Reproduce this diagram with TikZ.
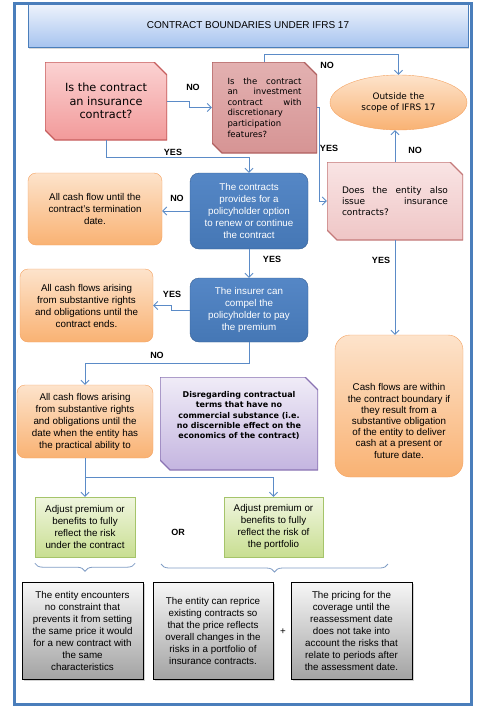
\documentclass[tikz,border=0pt]{standalone}
\usepackage{fontspec}
\setmainfont{Liberation Sans}
\newfontfamily\verdfont{DejaVu Sans}
\usetikzlibrary{arrows.meta,shapes.geometric,shadows,decorations.pathreplacing}

\definecolor{frameblue}{HTML}{4A7EBB}
\definecolor{linkblue}{HTML}{5B8BC7}
\definecolor{bracegray}{HTML}{7F9CC4}
\definecolor{titletop}{HTML}{EEF3FC}
\definecolor{titlebot}{HTML}{A7C4EF}
\definecolor{redtop}{HTML}{FBD2D2}
\definecolor{redbot}{HTML}{F29A9A}
\definecolor{redline}{HTML}{C65E5E}
\definecolor{rosetop}{HTML}{E3B1B1}
\definecolor{rosebot}{HTML}{D69494}
\definecolor{roseline}{HTML}{B06060}
\definecolor{pinktop}{HTML}{F9E4E4}
\definecolor{pinkbot}{HTML}{EFC6C6}
\definecolor{pinkline}{HTML}{C47A7A}
\definecolor{orgtop}{HTML}{FDE3CB}
\definecolor{orgbot}{HTML}{F9B273}
\definecolor{orgline}{HTML}{F4A261}
\definecolor{bluetop}{HTML}{5587C6}
\definecolor{bluebot}{HTML}{4577B5}
\definecolor{blueline}{HTML}{345D93}
\definecolor{purtop}{HTML}{F0ECF7}
\definecolor{purbot}{HTML}{C4B5E0}
\definecolor{purline}{HTML}{8A73B3}
\definecolor{grntop}{HTML}{F0F6DF}
\definecolor{grnbot}{HTML}{C8DE91}
\definecolor{grnline}{HTML}{A5C46A}
\definecolor{graytop}{HTML}{F7F7F7}
\definecolor{graybot}{HTML}{A3A3A3}

\begin{document}
\begin{tikzpicture}[x=1pt, y=-1pt, >={Straight Barb[length=4pt,width=8pt]},
    every node/.style={inner sep=2pt, align=center, font=\fontsize{9.8}{12}\selectfont},
    snipped/.style n args={3}{rectangle, path picture={
      \path[draw=#1, line width=1.4pt, top color=#2, bottom color=#3]
        (path picture bounding box.north west)
        -- ([xshift=-13pt]path picture bounding box.north east)
        -- ([yshift=-13pt]path picture bounding box.north east)
        -- (path picture bounding box.south east)
        -- ([xshift=10pt]path picture bounding box.south west)
        -- ([yshift=10pt]path picture bounding box.south west) -- cycle;}},
    titlebox/.style={draw=frameblue, top color=titletop, bottom color=titlebot,
      drop shadow={shadow xshift=1pt, shadow yshift=-2pt, opacity=0.3}, font=\fontsize{10}{12}\selectfont},
    redq/.style={snipped={redline}{redtop}{redbot}},
    roseq/.style={snipped={roseline}{rosetop}{rosebot}},
    pinkq/.style={snipped={pinkline}{pinktop}{pinkbot}},
    oval/.style={ellipse, draw=orgline, top color=orgtop, bottom color=orgbot},
    orangebox/.style={rounded corners=8pt, draw=orgline, top color=orgtop, bottom color=orgbot},
    bluebox/.style={rounded corners=9pt, draw=blueline, top color=bluetop, bottom color=bluebot,
      text=white},
    purplebox/.style={snipped={purline}{purtop}{purbot}},
    greenbox/.style={draw=grnline, top color=grntop, bottom color=grnbot},
    graybox/.style={draw=black, top color=graytop, bottom color=graybot,
      drop shadow={shadow xshift=2pt, shadow yshift=-2pt, opacity=0.35}},
    lbl/.style={font=\bfseries\fontsize{9}{11}\selectfont},
    link/.style={->, draw=linkblue, line width=0.8pt},
    brace/.style={decorate, decoration={brace, amplitude=8pt}, draw=bracegray, line width=0.8pt}]

  % 1. 画布与外框
  \useasboundingbox (0,0) rectangle (484,713);
  \draw[frameblue, line width=3pt] (14,3) rectangle (471,704);

  % 2. 标题
  \node[titlebox, minimum width=440pt, minimum height=43pt] (title) at (248,25.5)
    {CONTRACT BOUNDARIES UNDER IFRS 17};

  % 3. 上部判断框
  \node[redq, minimum width=122pt, minimum height=78pt,
    font=\verdfont\fontsize{11.3}{13.5}\selectfont] (q1) at (106,101)
    {Is the contract\\an insurance\\contract?};
  \node[roseq, minimum width=105pt, minimum height=91pt, text width=74pt, align=justify,
    font=\verdfont\fontsize{8.5}{10.6}\selectfont] (q2) at (264.5,107.5)
    {Is the contract\linebreak an investment\linebreak contract with\linebreak discretionary\newline participation\newline features?};
  \node[oval, minimum width=137pt, minimum height=55pt,
    font=\verdfont\fontsize{8.9}{11}\selectfont] (out) at (398.5,102.5)
    {Outside the\\scope of IFRS 17};
  \node[pinkq, minimum width=136pt, minimum height=78pt, text width=106pt, align=justify,
    font=\verdfont\fontsize{9}{11}\selectfont] (q3) at (395,201)
    {Does the entity also\linebreak issue insurance\linebreak contracts?};

  % 4. 中部流程
  \node[bluebox, minimum width=118pt, minimum height=76pt] (b1) at (249,211)
    {The contracts\\provides for a\\policyholder option\\to renew or continue\\the contract};
  \node[orangebox, minimum width=134pt, minimum height=72pt] (o1) at (95,209)
    {All cash flow until the\\contract's termination\\date.};
  \node[bluebox, minimum width=118pt, minimum height=64pt] (b2) at (249,310)
    {The insurer can\\compel the\\policyholder to pay\\the premium};
  \node[orangebox, minimum width=133pt, minimum height=73pt] (o2) at (86.5,305.5)
    {All cash flows arising\\from substantive rights\\and obligations until the\\contract ends.};
  \node[orangebox, minimum width=136pt, minimum height=73pt] (o3) at (85,421.5)
    {All cash flows arising\\from substantive rights\\and obligations until the\\date when the entity has\\the practical ability to};
  \node[purplebox, minimum width=158pt, minimum height=93pt,
    label={[yshift=8pt, align=center, font=\verdfont\bfseries\fontsize{8}{10.3}\selectfont]center:{Disregarding contractual\\terms that have no\\commercial substance (i.e.\\no discernible effect on the\\economics of the contract)}}]
    (dis) at (239,423.5) {};
  \node[orangebox, rounded corners=15pt, minimum width=128pt, minimum height=142pt,
    label={[yshift=-15pt, align=center, font=\fontsize{9.8}{11.2}\selectfont]center:{Cash flows are within\\the contract boundary if\\they result from a\\substantive obligation\\of the entity to deliver\\cash at a present or\\future date.}}]
    (r1) at (399,406) {};

  % 5. 下部
  \node[greenbox, minimum width=100pt, minimum height=60pt] (gA) at (85,527)
    {Adjust premium or\\benefits to fully\\reflect the risk\\under the contract};
  \node[greenbox, minimum width=99pt, minimum height=60pt] (gB) at (273.5,527)
    {Adjust premium or\\benefits to fully\\reflect the risk of\\the portfolio};
  \node[lbl] (orlbl) at (178,532) {OR};
  \node[graybox, minimum width=121pt, minimum height=97pt] (s1) at (82.5,630.5)
    {The entity encounters\\no constraint that\\prevents it from setting\\the same price it would\\for a new contract with\\the same\\characteristics};
  \node[graybox, minimum width=120pt, minimum height=97pt] (s2) at (213,630.5)
    {The entity can reprice\\existing contracts so\\that the price reflects\\overall changes in the\\risks in a portfolio of\\insurance contracts.};
  \node[graybox, minimum width=121pt, minimum height=97pt] (s3) at (351.5,630.5)
    {The pricing for the\\coverage until the\\reassessment date\\does not take into\\account the risks that\\relate to periods after\\the assessment date.};
  \node (plus) at (283,632) {+};

  % 6. 连线
  \draw[link] (q1.east) -- ++(22,0) |- (q2.west);
  \draw[link] (q1.south) -- ++(0,17) -| (b1.north);
  \draw[link] (q2.north) -- ++(0,-7) -| (out.north);
  \draw[link] (q2.east) -- ++(2,0) |- (q3.west);
  \draw[link] (q3.north) -- (q3.north |- out.south);
  \draw[link] (q3.south) -- (q3.south |- r1.north);
  \draw[link] (b1.west) -- (b1.west -| o1.east);
  \draw[link] (b1.south) -- (b2.north);
  \draw[link] (b2.west) -- ++(-18,0) |- (o2.east);
  \draw[link] (b2.south) -- ++(0,21) -| (o3.north);
  \draw[link] (o3.south) -- (o3.south |- gA.north);
  \draw[link] ([yshift=-19pt]o3.south) -| (gB.north);

  % 7. 是/否标签
  \node[lbl] (noA) at (193,87) {NO};
  \node[lbl] (yesA) at (173,152) {YES};
  \node[lbl] (noB) at (327,65) {NO};
  \node[lbl] (yesB) at (329,148) {YES};
  \node[lbl] (noC) at (415,150) {NO};
  \node[lbl] (yesC) at (381,260) {YES};
  \node[lbl] (noD) at (177,198) {NO};
  \node[lbl] (yesD) at (272,259) {YES};
  \node[lbl] (yesE) at (172,294) {YES};
  \node[lbl] (noE) at (157,355) {NO};

  % 8. 括号
  \coordinate (brR) at (388,564);
  \coordinate (brL) at (161,564);
  \draw[brace] ([yshift=-6pt]gA.south east) -- ([yshift=-6pt]gA.south west);
  \draw[brace] (brR) -- (brL);
\end{tikzpicture}
\end{document}
